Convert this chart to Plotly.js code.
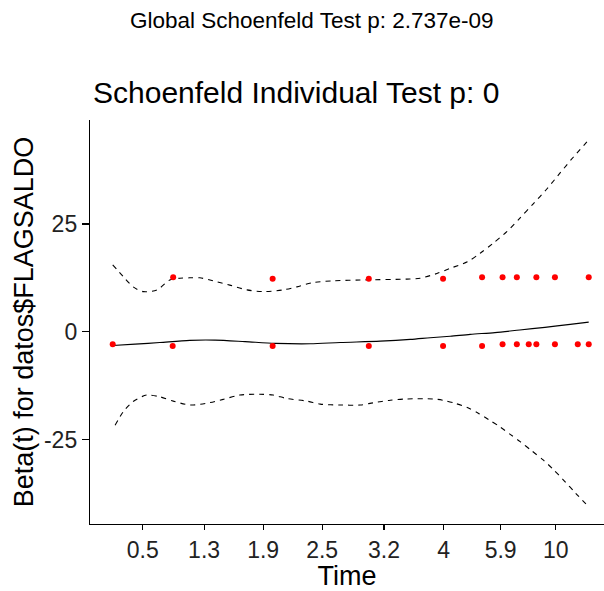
<!DOCTYPE html>
<html>
<head>
<meta charset="utf-8">
<script src="https://cdn.plot.ly/plotly-3.0.1.min.js"></script>
<style>html,body{margin:0;padding:0;background:#fff;}#chart{width:604px;height:591px;}</style>
</head>
<body>
<div id="chart"></div>
<script>
// Transformed (KM-scale) time positions and tick labels
const tickPositions = [0.063, 0.192, 0.316, 0.44, 0.570, 0.695, 0.815, 0.931];
const tickLabels = ['0.5', '1.3', '1.9', '2.5', '3.2', '4', '5.9', '10'];
const yTicks = [-25, 0, 25];

// Scaled Schoenfeld residuals (points)
const resUpperT = [0.127, 0.336, 0.538, 0.694, 0.776, 0.819, 0.849, 0.890, 0.929, 1.0];
const resUpperV = [12.6, 12.3, 12.3, 12.3, 12.6, 12.6, 12.6, 12.6, 12.6, 12.6];
const resLowerT = [0.000, 0.126, 0.336, 0.538, 0.694, 0.776, 0.819, 0.849, 0.874, 0.890, 0.929, 0.977, 1.0];
const resLowerV = [-2.9, -3.3, -3.3, -3.3, -3.3, -3.3, -2.9, -2.9, -2.9, -2.9, -2.9, -2.9, -2.9];

// Smoothed beta(t)
const fitT = [0.000, 0.047, 0.099, 0.162, 0.215, 0.278, 0.341, 0.415, 0.478, 0.562, 0.625, 0.667, 0.709, 0.751, 0.803, 0.855, 0.908, 0.961, 1.0];
const fitV = [-3.2, -2.9, -2.5, -2.0, -1.95, -2.3, -2.7, -2.8, -2.5, -2.2, -1.8, -1.4, -1.05, -0.6, -0.2, 0.4, 1.0, 1.7, 2.2];

// Upper confidence band
const upT = [0.000, 0.022, 0.043, 0.064, 0.093, 0.120, 0.141, 0.162, 0.183, 0.211, 0.246, 0.282, 0.316, 0.358, 0.387, 0.421, 0.463, 0.520, 0.618, 0.646, 0.681, 0.709, 0.745, 0.772, 0.799, 0.828, 0.855, 0.883, 0.912, 0.939, 0.967, 1.0];
const upV = [15.5, 12.8, 10.4, 9.3, 9.7, 12.0, 12.4, 12.5, 12.5, 11.8, 10.8, 9.7, 9.3, 9.7, 10.4, 11.4, 11.8, 12.0, 12.2, 12.4, 13.5, 14.7, 16.2, 18.2, 20.5, 23.2, 26.3, 29.6, 33.1, 36.7, 40.4, 44.5];

// Lower confidence band
const loT = [0.005, 0.022, 0.043, 0.071, 0.099, 0.127, 0.162, 0.197, 0.232, 0.267, 0.309, 0.337, 0.366, 0.408, 0.436, 0.478, 0.520, 0.547, 0.583, 0.618, 0.673, 0.694, 0.719, 0.745, 0.768, 0.790, 0.814, 0.835, 0.856, 0.880, 0.905, 0.926, 0.947, 0.972, 1.0];
const loV = [-21.7, -18.6, -16.2, -14.7, -15.1, -16.1, -17.0, -16.6, -15.7, -14.7, -14.5, -14.7, -15.5, -16.1, -16.8, -17.0, -17.0, -16.5, -15.9, -15.6, -15.6, -15.9, -16.6, -17.6, -18.9, -20.4, -22.1, -23.8, -25.5, -27.6, -29.8, -32.0, -34.4, -37.4, -40.6];

const FONT = 'Liberation Sans, Arial, sans-serif';

const traces = [
  {x: upT, y: upV, type: 'scatter', mode: 'lines', line: {color: '#000', width: 1.1, dash: '5px,5px', shape: 'spline', smoothing: 0.8}, hoverinfo: 'skip'},
  {x: loT, y: loV, type: 'scatter', mode: 'lines', line: {color: '#000', width: 1.1, dash: '5px,5px', shape: 'spline', smoothing: 0.8}, hoverinfo: 'skip'},
  {x: fitT, y: fitV, type: 'scatter', mode: 'lines', line: {color: '#000', width: 1.2, shape: 'spline', smoothing: 0.8}},
  {x: resUpperT, y: resUpperV, type: 'scatter', mode: 'markers', marker: {color: '#ff0000', size: 6}},
  {x: resLowerT, y: resLowerV, type: 'scatter', mode: 'markers', marker: {color: '#ff0000', size: 6}}
];

const layout = {
  width: 604, height: 591,
  margin: {l: 90, r: 0, t: 120, b: 67, pad: 0},
  paper_bgcolor: '#fff', plot_bgcolor: '#fff',
  showlegend: false,
  font: {family: FONT, color: '#000'},
  xaxis: {
    range: [-0.0477, 1.0321],
    tickmode: 'array', tickvals: tickPositions, ticktext: tickLabels,
    showgrid: false, zeroline: false,
    showline: true, linecolor: '#000', linewidth: 1.2,
    ticks: 'outside', ticklen: 5, tickwidth: 1.2, tickcolor: '#000',
    tickfont: {family: FONT, size: 23, color: '#222'},
    title: {text: 'Time', font: {family: FONT, size: 27, color: '#000'}, standoff: 6},
    automargin: false
  },
  yaxis: {
    range: [-44.6, 49.1],
    tickmode: 'array', tickvals: yTicks, ticktext: yTicks.map(String),
    showgrid: false, zeroline: false,
    showline: true, linecolor: '#000', linewidth: 1.2,
    ticks: 'outside', ticklen: 7, tickwidth: 1.2, tickcolor: '#000',
    tickfont: {family: FONT, size: 23, color: '#222'},
    title: {text: 'Beta(t) for datos$FLAGSALDO', font: {family: FONT, size: 27, color: '#000'}, standoff: 2},
    automargin: false
  },
  annotations: [
    {text: 'Global Schoenfeld Test p: 2.737e-09', xref: 'paper', yref: 'paper',
     x: (312 - 90) / 514, y: (524 - 20) / 404, xanchor: 'center', yanchor: 'middle',
     showarrow: false, font: {family: FONT, size: 22.5, color: '#000'}},
    {text: 'Schoenfeld Individual Test p: 0', xref: 'paper', yref: 'paper',
     x: (91 - 90) / 514, y: (524 - 93) / 404, xanchor: 'left', yanchor: 'middle',
     showarrow: false, font: {family: FONT, size: 30, color: '#000'}}
  ]
};

Plotly.newPlot('chart', traces, layout, {displayModeBar: false, staticPlot: true});
</script>
</body>
</html>
